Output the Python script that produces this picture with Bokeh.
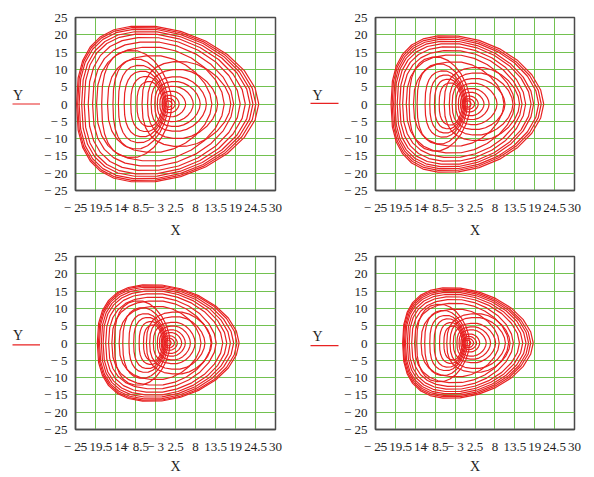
import numpy as np
from bokeh.plotting import figure
from bokeh.models import Range1d, FixedTicker
from bokeh.layouts import row, column
from bokeh.core.properties import value
from bokeh.embed import file_html
from bokeh.resources import INLINE

# ---- axes ----
X_TICKS = [-25, -19.5, -14, -8.5, -3, 2.5, 8, 13.5, 19, 24.5, 30]
X_TICK_LABELS = ["\u2212 25", "\u2212 19.5", "\u2212 14", "\u2212 8.5", "\u2212 3",
                 "2.5", "8", "13.5", "19", "24.5", "30"]
Y_TICKS = [-25, -20, -15, -10, -5, 0, 5, 10, 15, 20, 25]
Y_TICK_LABELS = ["\u2212 25", "\u2212 20", "\u2212 15", "\u2212 10", "\u2212 5",
                 "0", "5", "10", "15", "20", "25"]
X_NAME = "X"
Y_NAME = "Y"

# ---- loops: left crossing, right crossing,
#      half height and x of the top of each loop (bottom is mirrored)
P1_LEFT = [-0.3, -0.7, -1.2, -1.8, -2.5, -3.2, -4.2, -5.2, -6.7,
           -8.1, -9.8, -11.6, -13.2, -14.7, -17.8,
           -16.2, -19.2, -20.3, -21.5, -22.6, -23.3, -24.0, -24.4, -24.7]
P1_RIGHT = [1.5, 2.4, 3.5, 5.3, 7.4, 9.3, 11.0, 14.1, 17.7,
            -1.0, -0.6, -0.3, 0.0, 0.5, 1.5,
            12.5, 15.9, 18.5, 20.3, 21.7, 23.0, 23.8, 24.6, 25.4]
P1_TOP = [0.9, 1.6, 2.5, 3.7, 5.1, 6.5, 7.9, 10.0, 12.3,
          6.5, 8.0, 9.5, 11.2, 13.0, 15.5,
          14.0, 16.5, 18.0, 19.3, 20.3, 21.0, 21.7, 22.2, 22.6]
P1_XTOP = [0.6, 0.8, 1.1, 1.6, 2.1, 2.6, 3.0, 3.6, 4.2,
           -4.5, -5.3, -6.2, -7.0, -7.8, -9.0,
           -3.0, -3.5, -4.0, -4.5, -5.0, -5.2, -5.5, -5.8, -6.0]

P2_LEFT = [-0.3, -0.6, -1.0, -1.5, -2.1, -2.8, -3.8, -4.6, -6.0,
           -7.4, -8.7, -10.0, -11.3, -13.5, -15.7,
           -14.5, -16.5, -17.5, -18.3, -19.0, -19.6, -20.0, -20.4, -20.7]
P2_RIGHT = [1.4, 2.4, 3.4, 5.0, 6.4, 8.6, 10.8, 13.0, 14.8,
            -1.0, -0.6, -0.3, 0.0, 0.4, 1.2,
            10.5, 13.5, 15.5, 16.5, 18.0, 18.7, 20.1, 20.8, 21.5]
P2_TOP = [0.9, 1.5, 2.3, 3.4, 4.5, 6.0, 7.4, 9.0, 10.6,
          6.1, 7.2, 8.4, 9.6, 11.6, 13.6,
          12.2, 14.2, 15.5, 16.6, 17.5, 18.2, 18.8, 19.3, 19.8]
P2_XTOP = [0.6, 0.8, 1.1, 1.5, 1.9, 2.4, 2.9, 3.4, 3.8,
           -4.0, -4.6, -5.3, -5.9, -6.9, -7.9,
           -2.5, -2.9, -3.3, -3.6, -3.9, -4.1, -4.3, -4.5, -4.6]

P3_LEFT = [-0.3, -0.6, -1.0, -1.4, -1.9, -2.5, -3.6, -4.6, -5.5,
           -6.3, -7.5, -9.0, -10.3, -12.0, -14.3,
           -13.0, -15.0, -15.9, -16.7, -17.4, -17.9, -18.4, -18.7, -19.0]
P3_RIGHT = [1.3, 2.2, 3.0, 4.2, 5.2, 6.6, 7.9, 10.6, 12.5,
            -1.0, -0.6, -0.3, 0.0, 0.4, 1.0,
            9.5, 12.3, 13.7, 15.5, 16.6, 17.6, 18.5, 19.4, 20.0]
P3_TOP = [0.8, 1.4, 2.1, 3.0, 3.8, 4.9, 6.0, 7.6, 9.0,
          5.2, 6.2, 7.4, 8.5, 10.2, 12.2,
          10.6, 12.2, 13.3, 14.3, 15.1, 15.7, 16.2, 16.6, 16.9]
P3_XTOP = [0.6, 0.8, 1.0, 1.4, 1.7, 2.1, 2.4, 3.0, 3.4,
           -3.4, -4.0, -4.8, -5.5, -6.3, -7.3,
           -2.0, -2.3, -2.6, -2.8, -3.0, -3.2, -3.3, -3.4, -3.5]

P4_LEFT = [-0.3, -0.6, -1.0, -1.4, -1.9, -2.5, -3.5, -4.4, -5.3,
           -6.1, -7.3, -8.8, -10.0, -11.4, -13.6,
           -12.4, -14.2, -15.0, -15.7, -16.2, -16.7, -17.0, -17.3, -17.5]
P4_RIGHT = [1.3, 2.1, 2.9, 3.8, 5.6, 6.8, 8.2, 10.9, 12.2,
            -1.0, -0.6, -0.3, 0.0, 0.4, 1.0,
            9.2, 11.8, 13.1, 14.8, 15.7, 16.6, 17.3, 17.9, 18.6]
P4_TOP = [0.8, 1.3, 1.9, 2.6, 3.8, 4.7, 5.7, 7.4, 8.5,
          4.9, 5.9, 7.0, 8.0, 9.4, 11.2,
          9.8, 11.5, 12.6, 13.4, 14.1, 14.7, 15.2, 15.6, 16.0]
P4_XTOP = [0.6, 0.8, 1.0, 1.3, 1.8, 2.1, 2.5, 3.1, 3.4,
           -3.3, -3.9, -4.6, -5.2, -5.9, -6.9,
           -2.0, -2.4, -2.7, -3.0, -3.2, -3.4, -3.5, -3.6, -3.7]

RED = "#e82222"
GREEN = "#72c150"
FRAME = "#4a4a4a"
TEXT = "#1e1e1e"
FONT = "Liberation Serif"


def outline(left, right, top, xtop, n_left=2.6, n_right=1.8, m=26):
    th = np.linspace(0, 2 * np.pi, m + 1)
    c, s = np.cos(th), np.sin(th)
    n = np.where(c < 0, n_left, n_right)
    a = np.where(c < 0, xtop - left, right - xtop)
    xs = xtop + a * np.sign(c) * np.abs(c) ** (2.0 / n)
    ys = top * np.sign(s) * np.abs(s) ** (2.0 / n)
    return list(xs), list(ys)


def panel(L, R, T, XT, w, h, bl, br, bt, bb, lab_standoff):
    p = figure(width=w, height=h, x_range=Range1d(-25, 30), y_range=Range1d(-25, 25),
               output_backend="svg", toolbar_location=None,
               min_border_left=bl, min_border_right=br,
               min_border_top=bt, min_border_bottom=bb)
    p.background_fill_color = "white"
    p.border_fill_color = "white"
    p.outline_line_color = FRAME
    p.outline_line_width = 1.5
    for ax, ticks, labels in ((p.xaxis[0], X_TICKS, X_TICK_LABELS),
                              (p.yaxis[0], Y_TICKS, Y_TICK_LABELS)):
        ax.ticker = FixedTicker(ticks=ticks)
        ax.major_label_overrides = {t: s for t, s in zip(ticks, labels)}
        ax.major_tick_line_color = None
        ax.minor_tick_line_color = None
        ax.axis_line_color = FRAME
        ax.axis_line_width = 1.5
        ax.major_label_text_font = FONT
        ax.major_label_text_font_size = "13px"
        ax.major_label_text_color = TEXT
    p.xaxis.major_label_standoff = 3
    p.yaxis.major_label_standoff = 2
    p.xaxis.axis_label = X_NAME
    p.xaxis.axis_label_text_font = FONT
    p.xaxis.axis_label_text_font_style = "normal"
    p.xaxis.axis_label_text_font_size = "14px"
    p.xaxis.axis_label_text_color = TEXT
    p.xaxis.axis_label_standoff = lab_standoff
    for g in (p.xgrid[0], p.ygrid[0]):
        g.grid_line_color = GREEN
        g.grid_line_width = 1
    xs, ys = [], []
    for l, r, t, xt in zip(L, R, T, XT):
        a, b = outline(l, r, t, xt)
        xs.append(a)
        ys.append(b)
    p.multi_line(xs, ys, line_color=RED, line_width=1.2)
    return p


def legend_box(w, h, tx, ty, lx0, lx1, ly):
    q = figure(width=w, height=h, x_range=Range1d(0, w), y_range=Range1d(0, h),
               output_backend="svg", toolbar_location=None,
               x_axis_type=None, y_axis_type=None, min_border=0)
    q.outline_line_color = None
    q.xgrid.visible = False
    q.ygrid.visible = False
    q.text(x=[tx], y=[ty], text=[Y_NAME], text_font=value(FONT),
           text_font_size=value("14px"), text_align="center",
           text_baseline="middle", text_color=TEXT)
    q.line(x=[lx0, lx1], y=[ly, ly], line_color=RED, line_width=1.2)
    return q


g1 = legend_box(40, 240, 17.5, 132, 12, 40, 120)
f1 = panel(P1_LEFT, P1_RIGHT, P1_TOP, P1_XTOP, 266, 240, 28, 31, 17, 40, 5)
g2 = legend_box(34, 240, 11, 132, 4, 32, 121)
f2 = panel(P2_LEFT, P2_RIGHT, P2_TOP, P2_XTOP, 254, 240, 27, 20, 15, 41, 5)

g3 = legend_box(40, 236, 17.5, 128, 12, 40, 115.5)
f3 = panel(P3_LEFT, P3_RIGHT, P3_TOP, P3_XTOP, 266, 236, 28, 31, 16, 35, 2)
g4 = legend_box(34, 236, 11, 127, 4, 32, 114.5)
f4 = panel(P4_LEFT, P4_RIGHT, P4_TOP, P4_XTOP, 254, 236, 26, 20, 16, 35, 2)

layout = column(row(g1, f1, g2, f2), row(g3, f3, g4, f4))
open("out.html", "w").write(file_html(layout, INLINE))
